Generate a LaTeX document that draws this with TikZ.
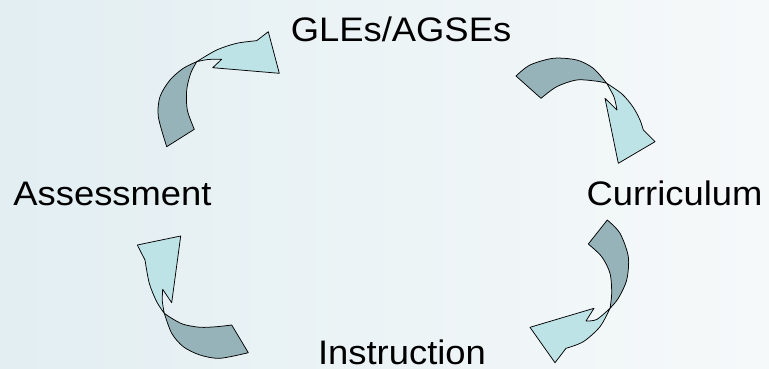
\documentclass[tikz,border=0pt]{standalone}
\usepackage{fontspec}
\newfontfamily\lab[FakeStretch=1.07]{Liberation Sans}
\definecolor{bgA}{HTML}{E2EEF2}
\definecolor{bgB}{HTML}{F6F9FA}
\definecolor{darkband}{HTML}{95B3B8}
\definecolor{lightband}{HTML}{BDE3E7}
\tikzset{
  label/.style={inner sep=0pt, anchor=base, font=\lab\fontsize{34}{40}\selectfont},
  backface/.style={fill=darkband, draw=black, line width=0.75pt, line join=round},
  frontface/.style={fill=lightband, draw=black, line width=0.75pt, line join=round}
}
\begin{document}
\begin{tikzpicture}[x=1pt,y=-1pt]
\useasboundingbox (0,0) rectangle (769,369);
\shade[left color=bgA, right color=bgB] (0,0) rectangle (769,369);

% texts
\node[label] (gles) at (401,42) {GLEs/AGSEs};
\node[label] (curr) at (674.5,205) {Curriculum};
\node[label] (instr) at (402,364) {Instruction};
\node[label] (assess) at (112.5,205) {Assessment};

% arrow 1: Assessment -> GLEs (top left)
\path[backface] (166.7,146.7) --plot[smooth] coordinates {(166.7,146.7) (158.3,116.7) (160,96.7) (170,80) (183.3,68.3) (196.7,61.7)}
  --plot[smooth] coordinates {(196.7,61.7) (190.7,73.3) (186.7,90) (187.3,110) (194.3,129.3)} -- cycle;
\path[frontface] (196.7,61.7) --plot[smooth] coordinates {(196.7,61.7) (216.7,50) (236.7,43.3) (256.7,40.7)}
  -- (268.3,31.7) -- (279.3,73.3) -- (212.7,67.7) -- (221.7,59.3)
  --plot[smooth] coordinates {(221.7,59.3) (208,59.5) (196.7,61.7)} -- cycle;

% arrow 2: GLEs -> Curriculum (top right)
\path[backface] (516,76) --plot[smooth] coordinates {(516,76) (530,65) (553.3,58.3) (576.7,60) (593.3,68.3) (606.7,83.3)}
  --plot[smooth] coordinates {(606.7,83.3) (596.7,81.2) (576.7,80) (556.7,86.7) (541,98.3)} -- cycle;
\path[frontface] (606.7,83.3) --plot[smooth] coordinates {(606.7,83.3) (622,94) (633,107) (640,120) (643.3,130)}
  -- (655,141.7) -- (618.3,163.3) -- (605,98.3) -- (617,110)
  --plot[smooth] coordinates {(617,110) (614,97) (606.7,83.3)} -- cycle;

% arrow 3: Curriculum -> Instruction (bottom right)
\path[backface] (607.3,220) --plot[smooth] coordinates {(607.3,220) (620,233.3) (628.3,256.7) (626.7,280) (618.3,298.3) (610,308.3)}
  --plot[smooth] coordinates {(610,308.3) (611.7,293.3) (610,273.3) (601.7,256.7) (588.3,244)} -- cycle;
\path[frontface] (610,308.3) --plot[smooth] coordinates {(610,308.3) (600,326.7) (583.3,341.7) (566,348.3)}
  -- (555,362.7) -- (530,327.3) -- (594,308.3) -- (586,321)
  --plot[smooth] coordinates {(586,321) (596.7,319.5) (610,308.3)} -- cycle;

% arrow 4: Instruction -> Assessment (bottom left)
\path[backface] (248.3,352.7) --plot[smooth] coordinates {(248.3,352.7) (220,358.3) (200,355) (183.3,346.7) (171.7,333.3) (164.3,313.3)}
  --plot[smooth] coordinates {(164.3,313.3) (171.7,318.3) (183.3,324.3) (200,327.3) (216.7,326.7) (231.7,325)} -- cycle;
\path[frontface] (164.3,313.3) --plot[smooth] coordinates {(164.3,313.3) (156.7,301.7) (149.3,283.3) (145,260)}
  -- (137.3,245) -- (180.7,236) -- (171.7,302.7) -- (162.7,289.3)
  --plot[smooth] coordinates {(162.7,289.3) (162.3,301) (164.3,313.3)} -- cycle;
\end{tikzpicture}
\end{document}
